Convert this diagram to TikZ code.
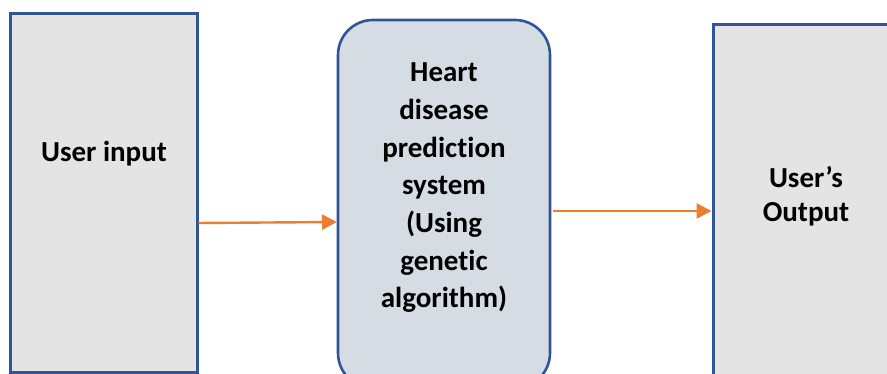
\documentclass[tikz,border=0pt]{standalone}
\usepackage{fontspec}
\setmainfont{Carlito}[Ligatures=NoCommon]
\usetikzlibrary{arrows.meta}
\definecolor{boxedge}{HTML}{2F5597}
\definecolor{boxgray}{HTML}{E4E4E4}
\definecolor{boxblue}{HTML}{D5DCE4}
\definecolor{flow}{HTML}{ED7D31}
\tikzset{
  plainbox/.style={draw=boxedge, line width=3pt, fill=boxgray},
  roundbox/.style={draw=boxedge, line width=2.6pt, fill=boxblue, rounded corners=35pt},
  label/.style={align=center, anchor=base, inner sep=0pt},
  flowarrow/.style={draw=flow, line width=2.4pt, -{Triangle[length=15pt,width=15pt]}},
}
\begin{document}
\begin{tikzpicture}[x=1pt,y=-1pt]
  \useasboundingbox (0,0) rectangle (887,374);
  \clip (0,0) rectangle (887,374);
  % blocks
  \draw[plainbox] (10,14) rectangle (197,372);
  \draw[roundbox] (338,20) rectangle (550,388);
  \draw[plainbox] (713,25) rectangle (902,420);
  % connector end points on the block edges
  \coordinate (inR) at (198.5,223);
  \coordinate (sysL) at (337,222);
  \coordinate (sysR) at (553,211);
  \coordinate (outL) at (711.5,211);
  % labels (a multi-line node is anchored at the baseline of its last line)
  \node[label, font=\bfseries\fontsize{29}{37.7}\selectfont] (input) at (104,162) {User input};
  \node[label, font=\bfseries\fontsize{29}{37.7}\selectfont] (system) at (444,308)
    {Heart\\disease\\prediction\\system\\(Using\\genetic\\algorithm)};
  \node[label, font=\bfseries\fontsize{29}{34}\selectfont] (output) at (806,222) {User’s\\Output};
  % flow
  \draw[flowarrow] (inR) -- (sysL);
  \draw[flowarrow] (sysR) -- (outL);
\end{tikzpicture}
\end{document}
